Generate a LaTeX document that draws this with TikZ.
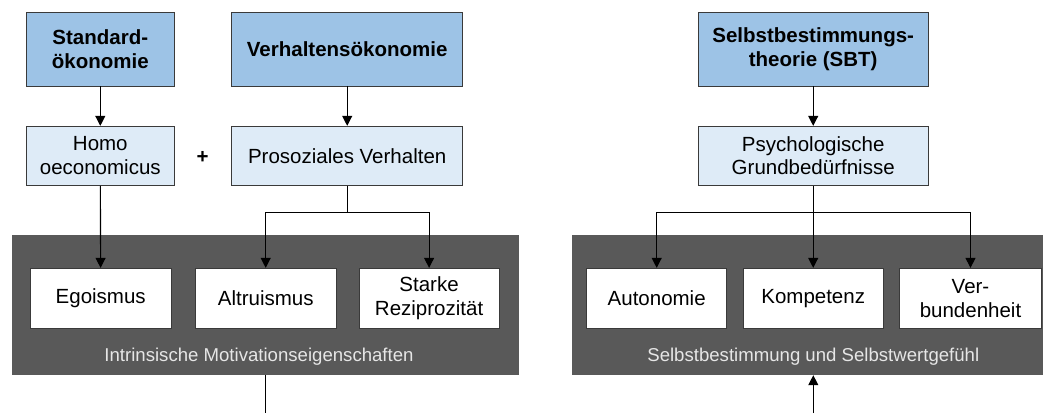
\documentclass[tikz,border=0pt]{standalone}
\usepackage{fontspec}
\setmainfont{Liberation Sans}
\usetikzlibrary{arrows.meta}

\definecolor{headblue}{HTML}{9DC3E6}
\definecolor{subblue}{HTML}{DEEBF7}
\definecolor{panelgray}{HTML}{595959}
\definecolor{edgegray}{HTML}{3A3A3A}
\definecolor{labelgray}{HTML}{E6E6E6}

\tikzset{
  basebox/.style={draw=edgegray, line width=0.9pt, inner sep=0pt, align=center,
    font=\fontsize{20.5}{23.6}\selectfont},
  headbox/.style={basebox, fill=headblue, minimum height=74pt,
    font=\bfseries\fontsize{20.5}{23.6}\selectfont},
  subbox/.style={basebox, fill=subblue, minimum height=59pt},
  traitbox/.style={basebox, fill=white, minimum height=60pt},
  panel/.style={fill=panelgray, inner sep=0pt, minimum height=140pt},
  panellabel/.style={text=labelgray, font=\fontsize{18.6}{22}\selectfont},
  link/.style={line width=1.1pt, draw=black},
  arr/.style={link, -{Triangle[length=10pt,width=10pt]}}
}

\begin{document}
\begin{tikzpicture}[x=1pt,y=-1pt]
  \useasboundingbox (0,0) rectangle (1045,413);

  % grey panels behind the trait boxes
  \node[panel, minimum width=507pt] (pl) at (265.5,305) {};
  \node[panel, minimum width=471.3pt] (pr) at (807.7,305) {};
  \node[panellabel] (pllab) at (259,356.7) {Intrinsische Motivationseigenschaften};
  \node[panellabel] (prlab) at (813.3,356.7) {Selbstbestimmung und Selbstwertgefühl};

  % theory headers
  \node[headbox, minimum width=148pt] (std) at (100.3,49) {Standard-\\ökonomie};
  \node[headbox, minimum width=231pt] (verh) at (347.2,49) {Verhaltensökonomie};
  \node[headbox, minimum width=229.7pt] (sbt) at (813.2,49) {Selbstbestimmungs-\\theorie (SBT)};

  % second row
  \node[subbox, minimum width=148pt] (homo) at (100.3,155.8) {Homo\\oeconomicus};
  \node[subbox, minimum width=231pt] (proso) at (347.2,155.8) {Prosoziales Verhalten};
  \node[subbox, minimum width=229.7pt] (psych) at (813.2,155.8) {Psychologische\\Grundbedürfnisse};
  \node[font=\bfseries\fontsize{20.5}{23.6}\selectfont] (plus) at (202.5,157.5) {+};

  % trait boxes
  \node[traitbox, minimum width=140.7pt] (ego) at (100.7,298.3) {Egoismus};
  \node[traitbox, minimum width=141pt] (alt) at (265.7,298.3) {Altruismus};
  \node[traitbox, minimum width=140.3pt] (sta) at (429.1,298.3) {Starke\\Reziprozität};
  \node[traitbox, minimum width=139.6pt] (aut) at (656.7,298.3) {Autonomie};
  \node[traitbox, minimum width=140pt] (kom) at (813.2,298.3) {Kompetenz};
  \node[traitbox, minimum width=142.4pt] (ver) at (970.5,298.3) {Ver-\\bundenheit};

  % connectors
  \draw[arr] (std) -- (homo);
  \draw[arr] (verh) -- (proso);
  \draw[arr] (sbt) -- (psych);
  \draw[arr] (homo) -- (ego);

  \coordinate (lsplit) at (347.2,212.7);
  \coordinate (rsplit) at (813.2,212.7);
  \draw[link] (proso.south) -- (lsplit);
  \draw[arr] (lsplit) -| (alt.north);
  \draw[arr] (lsplit) -| (sta.north);
  \draw[arr] (psych.south) -- (kom.north);
  \draw[arr] (rsplit) -| (aut.north);
  \draw[arr] (rsplit) -| (ver.north);

  \coordinate (lend) at (265.7,413);
  \coordinate (rstart) at (813.3,413);
  \draw[link] (pl.south -| lend) -- (lend);
  \draw[arr] (rstart) -- (pr.south -| rstart);
\end{tikzpicture}
\end{document}
